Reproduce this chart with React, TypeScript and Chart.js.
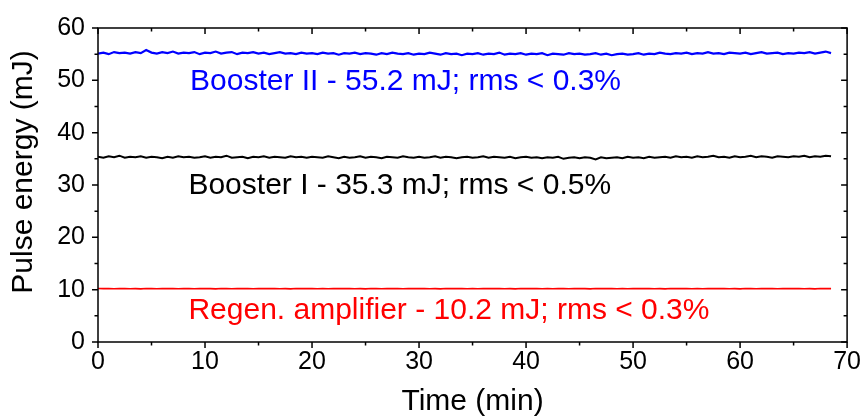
import React, { useEffect, useRef } from 'react';
import { Chart, registerables } from 'chart.js';

Chart.register(...registerables);

// Time in minutes (sampled every 0.5 min)
const TIME_MIN = [
  0, 0.5, 1, 1.5, 2, 2.5, 3, 3.5, 4, 4.5,
  5, 5.5, 6, 6.5, 7, 7.5, 8, 8.5, 9, 9.5,
  10, 10.5, 11, 11.5, 12, 12.5, 13, 13.5, 14, 14.5,
  15, 15.5, 16, 16.5, 17, 17.5, 18, 18.5, 19, 19.5,
  20, 20.5, 21, 21.5, 22, 22.5, 23, 23.5, 24, 24.5,
  25, 25.5, 26, 26.5, 27, 27.5, 28, 28.5, 29, 29.5,
  30, 30.5, 31, 31.5, 32, 32.5, 33, 33.5, 34, 34.5,
  35, 35.5, 36, 36.5, 37, 37.5, 38, 38.5, 39, 39.5,
  40, 40.5, 41, 41.5, 42, 42.5, 43, 43.5, 44, 44.5,
  45, 45.5, 46, 46.5, 47, 47.5, 48, 48.5, 49, 49.5,
  50, 50.5, 51, 51.5, 52, 52.5, 53, 53.5, 54, 54.5,
  55, 55.5, 56, 56.5, 57, 57.5, 58, 58.5, 59, 59.5,
  60, 60.5, 61, 61.5, 62, 62.5, 63, 63.5, 64, 64.5,
  65, 65.5, 66, 66.5, 67, 67.5, 68, 68.5,
];

// Booster II pulse energy (mJ)
const BOOSTER_II_MJ = [
  55.1, 55.3, 55.0, 55.4, 55.2, 55.3, 55.1, 55.4, 55.2, 55.8,
  55.3, 55.1, 55.4, 55.2, 55.5, 55.1, 55.3, 55.2, 55.4, 55.0,
  55.3, 55.2, 55.5, 55.1, 55.3, 55.4, 55.0, 55.3, 55.2, 55.4,
  55.1, 55.3, 55.0, 55.2, 55.4, 55.1, 55.2, 55.0, 55.3, 55.1,
  55.2, 55.0, 55.3, 55.1, 55.2, 54.9, 55.2, 55.1, 55.3, 55.0,
  55.2, 55.1, 54.9, 55.2, 55.0, 55.3, 55.1, 55.0, 55.2, 54.9,
  55.1, 55.0, 55.3, 55.1, 54.9, 55.2, 55.0, 55.1, 54.8, 55.1,
  55.0, 55.2, 54.9, 55.1, 55.0, 55.3, 54.9, 55.1, 55.0, 55.2,
  54.9, 55.1, 55.0, 55.2, 54.8, 55.1, 55.0, 54.9, 55.2, 55.0,
  55.1, 54.9, 55.0, 55.2, 54.9, 55.1, 54.8, 55.0, 55.1, 54.9,
  55.0, 55.2, 54.9, 55.1, 55.0, 55.3, 55.1, 55.0, 55.2, 55.1,
  55.3, 55.0, 55.2, 55.1, 55.4, 55.1, 55.2, 55.0, 55.3, 55.2,
  55.1, 55.3, 55.0, 55.2, 55.4, 55.1, 55.2, 55.3, 55.0, 55.2,
  55.1, 55.3, 55.2, 55.4, 55.1, 55.3, 55.5, 55.2,
];

// Booster I pulse energy (mJ)
const BOOSTER_I_MJ = [
  35.4, 35.2, 35.5, 35.3, 35.6, 35.2, 35.4, 35.3, 35.5, 35.2,
  35.4, 35.3, 35.1, 35.4, 35.2, 35.5, 35.3, 35.4, 35.2, 35.3,
  35.5, 35.2, 35.4, 35.3, 35.6, 35.2, 35.3, 35.4, 35.1, 35.4,
  35.3, 35.5, 35.2, 35.4, 35.3, 35.2, 35.5, 35.3, 35.4, 35.2,
  35.4, 35.3, 35.2, 35.5, 35.3, 35.1, 35.4, 35.2, 35.3, 35.5,
  35.2, 35.4, 35.3, 35.1, 35.4, 35.3, 35.2, 35.5, 35.3, 35.2,
  35.4, 35.2, 35.3, 35.5, 35.2, 35.4, 35.3, 35.1, 35.3, 35.4,
  35.2, 35.3, 35.5, 35.2, 35.4, 35.3, 35.2, 35.4, 35.1, 35.3,
  35.4, 35.2, 35.3, 35.1, 35.3, 35.2, 35.4, 35.0, 35.2, 35.3,
  35.1, 35.3, 35.2, 34.9, 35.3, 35.1, 35.2, 35.3, 35.1, 35.4,
  35.2, 35.3, 35.1, 35.4, 35.2, 35.3, 35.4, 35.2, 35.5, 35.3,
  35.4, 35.2, 35.5, 35.3, 35.4, 35.6, 35.3, 35.4, 35.2, 35.5,
  35.3, 35.4, 35.6, 35.3, 35.5, 35.4, 35.2, 35.5, 35.4, 35.3,
  35.5, 35.4, 35.6, 35.3, 35.5, 35.4, 35.6, 35.5,
];

// Regenerative amplifier pulse energy (mJ)
const REGEN_MJ = [
  10.22, 10.19, 10.21, 10.17, 10.2, 10.22, 10.18, 10.2, 10.16, 10.21,
  10.2, 10.18, 10.22, 10.19, 10.2, 10.17, 10.21, 10.2, 10.18, 10.22,
  10.19, 10.2, 10.16, 10.21, 10.2, 10.18, 10.22, 10.19, 10.2, 10.17,
  10.21, 10.19, 10.2, 10.22, 10.18, 10.2, 10.16, 10.21, 10.2, 10.19,
  10.22, 10.18, 10.2, 10.17, 10.21, 10.2, 10.19, 10.22, 10.18, 10.2,
  10.16, 10.21, 10.2, 10.18, 10.22, 10.19, 10.2, 10.17, 10.21, 10.2,
  10.19, 10.22, 10.18, 10.2, 10.16, 10.21, 10.2, 10.19, 10.22, 10.18,
  10.2, 10.17, 10.21, 10.2, 10.19, 10.22, 10.18, 10.2, 10.16, 10.21,
  10.2, 10.19, 10.22, 10.18, 10.2, 10.17, 10.21, 10.2, 10.18, 10.22,
  10.19, 10.2, 10.16, 10.21, 10.2, 10.19, 10.22, 10.18, 10.2, 10.17,
  10.21, 10.2, 10.19, 10.22, 10.18, 10.2, 10.16, 10.21, 10.2, 10.19,
  10.22, 10.18, 10.2, 10.17, 10.21, 10.2, 10.19, 10.22, 10.18, 10.2,
  10.16, 10.21, 10.2, 10.18, 10.22, 10.19, 10.2, 10.17, 10.21, 10.2,
  10.19, 10.22, 10.18, 10.2, 10.16, 10.21, 10.2, 10.19,
];

const SERIES_LABELS = ['Booster II', 'Booster I', 'Regen. amplifier'];
const SERIES_COLORS = ['#0000ff', '#000000', '#ff0000'];
const ANNOTATION_TEXTS = [
  'Booster II - 55.2 mJ; rms < 0.3%',
  'Booster I - 35.3 mJ; rms < 0.5%',
  'Regen. amplifier - 10.2 mJ; rms < 0.3%',
];
const X_TITLE = 'Time (min)';
const Y_TITLE = 'Pulse energy (mJ)';
const X_MIN = 0, X_MAX = 70, X_MAJOR = 10, X_MINOR = 5;
const Y_MIN = 0, Y_MAX = 60, Y_MAJOR = 10, Y_MINOR = 5;

const FONT = "'Liberation Sans', Arial, Helvetica, sans-serif";

const toPoints = (ys: number[]) => ys.map((y, i) => ({ x: TIME_MIN[i], y }));

const framePlugin = {
  id: 'frameAndText',
  afterDraw(chart: any) {
    const { ctx, chartArea, scales } = chart;
    const { left, right, top, bottom } = chartArea;
    const xs = scales.x;
    const ys = scales.y;
    ctx.save();
    ctx.strokeStyle = '#000';
    ctx.lineWidth = 1.5;
    ctx.strokeRect(left, top, right - left, bottom - top);
    ctx.beginPath();
    for (let v = X_MIN; v <= X_MAX; v += X_MINOR) {
      const px = xs.getPixelForValue(v);
      const len = v % X_MAJOR === 0 ? 6 : 3.5;
      ctx.moveTo(px, bottom);
      ctx.lineTo(px, bottom + len);
      ctx.moveTo(px, top);
      ctx.lineTo(px, top + len);
    }
    for (let v = Y_MIN; v <= Y_MAX; v += Y_MINOR) {
      const py = ys.getPixelForValue(v);
      const len = v % Y_MAJOR === 0 ? 6 : 3.5;
      ctx.moveTo(left - len, py);
      ctx.lineTo(left, py);
      ctx.moveTo(right - len, py);
      ctx.lineTo(right, py);
    }
    ctx.stroke();

    // Y axis title
    ctx.fillStyle = '#000';
    ctx.font = `30px ${FONT}`;
    ctx.textAlign = 'center';
    ctx.textBaseline = 'middle';
    ctx.translate(24, (top + bottom) / 2 - 13);
    ctx.rotate(-Math.PI / 2);
    ctx.fillText(Y_TITLE, 0, 0);
    ctx.restore();

    // Annotations
    const pos = [
      { x: 8.6, y: 48.1 },
      { x: 8.45, y: 28.2 },
      { x: 8.45, y: 4.4 },
    ];
    ctx.save();
    ctx.font = `30px ${FONT}`;
    ctx.textAlign = 'left';
    ctx.textBaseline = 'alphabetic';
    ANNOTATION_TEXTS.forEach((t, i) => {
      ctx.fillStyle = SERIES_COLORS[i];
      ctx.fillText(t, xs.getPixelForValue(pos[i].x), ys.getPixelForValue(pos[i].y));
    });
    ctx.restore();
  },
};

export default function App() {
  const canvasRef = useRef<HTMLCanvasElement | null>(null);

  useEffect(() => {
    document.body.style.margin = '0';
    const canvas = canvasRef.current;
    if (!canvas) return;
    const widths = [2.2, 2.0, 1.6];
    const chart = new Chart(canvas, {
      type: 'line',
      data: {
        datasets: [BOOSTER_II_MJ, BOOSTER_I_MJ, REGEN_MJ].map((ys, i) => ({
          label: SERIES_LABELS[i],
          data: toPoints(ys),
          borderColor: SERIES_COLORS[i],
          backgroundColor: SERIES_COLORS[i],
          borderWidth: widths[i],
          pointRadius: 0,
          tension: 0,
          fill: false,
        })),
      },
      options: {
        responsive: false,
        animation: false,
        layout: { padding: { top: 20, right: 16, left: 0, bottom: 0 } },
        plugins: {
          legend: { display: false },
          tooltip: { enabled: false },
        },
        scales: {
          x: {
            type: 'linear',
            min: X_MIN,
            max: X_MAX,
            grid: { display: false, drawTicks: false },
            border: { display: false },
            ticks: {
              stepSize: X_MAJOR,
              color: '#000',
              padding: 5,
              maxRotation: 0,
              font: { family: FONT, size: 25 },
            },
            title: {
              display: true,
              text: X_TITLE,
              color: '#000',
              padding: { top: 0, bottom: 0 },
              font: { family: FONT, size: 30 },
            },
            afterFit: (s: any) => { s.height = 78; },
          },
          y: {
            type: 'linear',
            min: Y_MIN,
            max: Y_MAX,
            grid: { display: false, drawTicks: false },
            border: { display: false },
            ticks: {
              stepSize: Y_MAJOR,
              color: '#000',
              padding: 13,
              font: { family: FONT, size: 25 },
            },
            afterFit: (s: any) => { s.width = 98; },
          },
        },
      },
      plugins: [framePlugin],
    });
    return () => chart.destroy();
  }, []);

  return (
    <div style={{ width: 866, height: 420 }}>
      <canvas ref={canvasRef} width={866} height={420} />
    </div>
  );
}
